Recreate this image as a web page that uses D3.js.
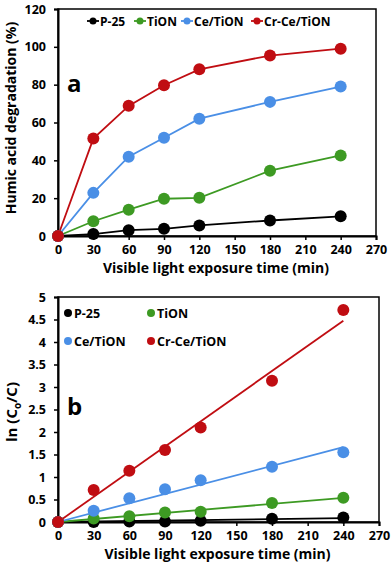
<!DOCTYPE html>
<html>
<head>
<meta charset="utf-8">
<script src="https://cdn.jsdelivr.net/npm/d3@7"></script>
<style>
body { margin: 0; background: #fff; }
text { font-family: "Open Sans", Lato, sans-serif; font-weight: bold; }
</style>
</head>
<body>
<script>
// exposure times (min)
var times = [0, 30, 60, 90, 120, 180, 240];
var names = ['P-25', 'TiON', 'Ce/TiON', 'Cr-Ce/TiON'];
var colors = ['#000000', '#3d9a23', '#4a8fe6', '#c00d12'];

// panel a: humic acid degradation (%)
var degP25 = [0, 1.0, 3.1, 3.8, 5.6, 8.2, 10.4];
var degTiON = [0, 7.8, 13.9, 19.7, 20.2, 34.5, 42.6];
var degCe = [0, 22.8, 41.9, 51.9, 62, 70.9, 79];
var degCrCe = [0, 51.5, 68.8, 79.7, 88.1, 95.4, 99];

// panel b: ln(Co/C)
var lnP25 = [0, 0.0, 0.01, 0.01, 0.03, 0.07, 0.1];
var lnTiON = [0, 0.08, 0.13, 0.21, 0.23, 0.42, 0.54];
var lnCe = [0, 0.25, 0.53, 0.73, 0.93, 1.23, 1.55];
var lnCrCe = [0, 0.71, 1.14, 1.6, 2.1, 3.14, 4.71];

var xTicks = [0, 30, 60, 90, 120, 150, 180, 210, 240, 270];
var yTicksA = [0, 20, 40, 60, 80, 100, 120];
var yTicksB = [0, 0.5, 1, 1.5, 2, 2.5, 3, 3.5, 4, 4.5, 5];

var seriesA = [degP25, degTiON, degCe, degCrCe];
var seriesB = [lnP25, lnTiON, lnCe, lnCrCe];

var svg = d3.select('body').append('svg')
  .attr('width', 392).attr('height', 572);

function frame(g, x, y, xt, yt, fmt) {
  var x0 = x.range()[0], x1 = x.range()[1];
  var y0 = y.range()[0], y1 = y.range()[1];
  g.append('rect').attr('x', x0).attr('y', y1)
    .attr('width', x1 - x0).attr('height', y0 - y1)
    .attr('fill', 'none').attr('stroke', '#000').attr('stroke-width', 1.5);

  var xa = g.append('g').attr('transform', 'translate(0,' + y0 + ')')
    .call(d3.axisBottom(x).tickValues(xt).tickSize(4).tickPadding(5));
  var ya = g.append('g').attr('transform', 'translate(' + x0 + ',0)')
    .call(d3.axisLeft(y).tickValues(yt).tickSize(4).tickPadding(8).tickFormat(fmt));
  [xa, ya].forEach(function(a) {
    a.select('.domain').attr('stroke-width', 2);
    a.selectAll('.tick line').attr('stroke-width', 1.5);
    a.selectAll('text').style('font-size', '12.5px').attr('fill', '#000');
  });
  g.append('text').attr('x', (x0 + x1) / 2 - 1).attr('y', y0 + 37)
    .attr('text-anchor', 'middle').style('font-size', '14px')
    .text('Visible light exposure time (min)');
}

// ---------- panel a ----------
var xA = d3.scaleLinear().domain([0, 270]).range([58, 376]);
var yA = d3.scaleLinear().domain([0, 120]).range([236, 9]);
var gA = svg.append('g');
frame(gA, xA, yA, xTicks, yTicksA, d3.format('d'));

gA.append('text').attr('transform', 'translate(16,118) rotate(-90)')
  .attr('text-anchor', 'middle').style('font-size', '14px')
  .text('Humic acid degradation (%)');
gA.append('text').attr('x', 67).attr('y', 92).style('font-size', '24px').text('a');

var lineA = d3.line().x(function(d, i) { return xA(times[i]); })
  .y(function(d) { return yA(d); });

seriesA.forEach(function(s, k) {
  gA.append('path').datum(s).attr('d', lineA)
    .attr('fill', 'none').attr('stroke', colors[k]).attr('stroke-width', 1.8);
});
seriesA.forEach(function(s, k) {
  gA.selectAll(null).data(s).enter().append('circle')
    .attr('cx', function(d, i) { return xA(times[i]); })
    .attr('cy', function(d) { return yA(d); })
    .attr('r', 6).attr('fill', colors[k]);
});

var legA = [93, 140, 187, 257];
names.forEach(function(n, k) {
  var lg = gA.append('g').attr('transform', 'translate(' + legA[k] + ',21)');
  lg.append('line').attr('x1', -6).attr('x2', 6).attr('stroke', colors[k]).attr('stroke-width', 1.8);
  lg.append('circle').attr('r', 3.5).attr('fill', colors[k]);
  lg.append('text').attr('x', 7).attr('y', 4.5).style('font-size', '12px').text(n);
});

// ---------- panel b ----------
var xB = d3.scaleLinear().domain([0, 270]).range([58, 379]);
var yB = d3.scaleLinear().domain([0, 5]).range([522, 297]);
var gB = svg.append('g');
frame(gB, xB, yB, xTicks, yTicksB, function(d) { return String(d); });

var yl = gB.append('text').attr('transform', 'translate(17,412) rotate(-90)')
  .attr('text-anchor', 'middle').style('font-size', '15px');
yl.append('tspan').text('ln (C');
yl.append('tspan').attr('dy', 4).style('font-size', '10px').text('o');
yl.append('tspan').attr('dy', -4).text('/C)');
gB.append('text').attr('x', 67).attr('y', 415).style('font-size', '24px').text('b');

// linear fits through the origin
seriesB.forEach(function(s, k) {
  var sxy = d3.sum(s, function(d, i) { return d * times[i]; });
  var sxx = d3.sum(times, function(t) { return t * t; });
  var slope = sxy / sxx;
  gB.append('line')
    .attr('x1', xB(0)).attr('y1', yB(0))
    .attr('x2', xB(240)).attr('y2', yB(slope * 240))
    .attr('stroke', colors[k]).attr('stroke-width', 1.8);
});
seriesB.forEach(function(s, k) {
  gB.selectAll(null).data(s).enter().append('circle')
    .attr('cx', function(d, i) { return xB(times[i]); })
    .attr('cy', function(d) { return yB(d); })
    .attr('r', 6).attr('fill', colors[k]);
});

var legB = [[68, 313], [151, 313], [68, 341], [151, 341]];
names.forEach(function(n, k) {
  var lg = gB.append('g').attr('transform', 'translate(' + legB[k][0] + ',' + legB[k][1] + ')');
  lg.append('circle').attr('r', 4).attr('fill', colors[k]);
  lg.append('text').attr('x', 6).attr('y', 4.5).style('font-size', '12.5px').text(n);
});
</script>
</body>
</html>
